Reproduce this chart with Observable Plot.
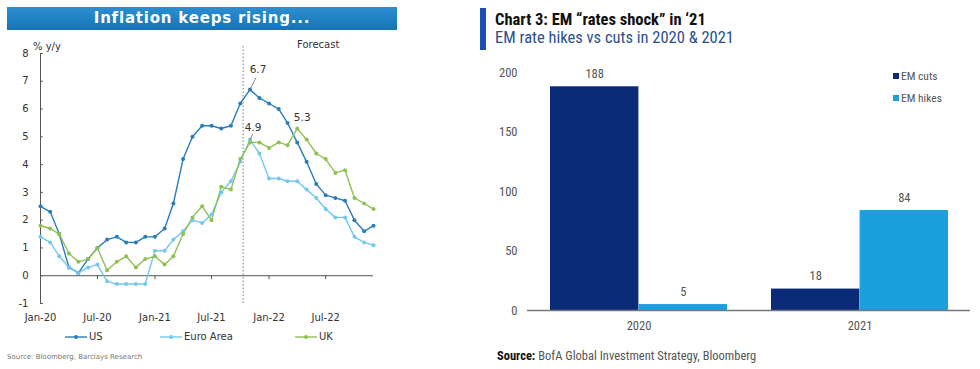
<!DOCTYPE html>
<html>
<head>
<meta charset="utf-8">
<script src="https://cdn.jsdelivr.net/npm/d3@7"></script>
<script src="https://cdn.jsdelivr.net/npm/@observablehq/plot@0.6"></script>
<style>
  html, body { margin: 0; padding: 0; background: #fff; }
  #root { position: relative; width: 980px; height: 369px; overflow: hidden; background: #fff; }
  .abs { position: absolute; white-space: nowrap; }
  .L { font-family: "DejaVu Sans", Verdana, sans-serif; }
  .R { font-family: "Liberation Sans Narrow", "Roboto Condensed", "Arial Narrow", sans-serif; }
</style>
</head>
<body>
<div id="root"></div>
<script>
// ---------- Left chart data: Inflation, % y/y, monthly Jan-20 .. Dec-22 ----------
const months = d3.utcMonths(new Date(Date.UTC(2020, 0, 1)), new Date(Date.UTC(2023, 0, 1)));
const usValues   = [2.5,2.3,1.5,0.3,0.1,0.6,1.0,1.3,1.4,1.2,1.2,1.4, 1.4,1.7,2.6,4.2,5.0,5.4,5.4,5.3,5.4,6.2,6.7,6.4, 6.2,6.0,5.5,4.8,4.1,3.3,2.9,2.8,2.7,2.0,1.6,1.8];
const euroValues = [1.4,1.2,0.7,0.3,0.1,0.3,0.4,-0.2,-0.3,-0.3,-0.3,-0.3, 0.9,0.9,1.3,1.6,2.0,1.9,2.2,3.0,3.4,4.1,4.9,4.4, 3.5,3.5,3.4,3.4,3.1,2.8,2.4,2.1,2.1,1.4,1.2,1.1];
const ukValues   = [1.8,1.7,1.5,0.8,0.5,0.6,1.0,0.2,0.5,0.7,0.3,0.6, 0.7,0.4,0.7,1.5,2.1,2.5,2.0,3.2,3.1,4.2,4.8,4.8, 4.6,4.8,4.7,5.3,4.9,4.4,4.2,3.7,3.8,2.8,2.6,2.4];
const seriesNames = ["US", "Euro Area", "UK"];
const seriesColors = ["#2a7db8", "#72c8ee", "#8fc152"];
const yTicksLeft = [-1,0,1,2,3,4,5,6,7,8];
const xTickLabels = ["Jan-20","Jul-20","Jan-21","Jul-21","Jan-22","Jul-22"];
const forecastStart = new Date(Date.UTC(2021, 9, 10));
const annotations = [
  {series: "US", index: 22, label: "6.7"},
  {series: "Euro Area", index: 22, label: "4.9"},
  {series: "UK", index: 27, label: "5.3"}
];

// ---------- Right chart data: EM rate hikes vs cuts ----------
const years = ["2020", "2021"];
const emCuts  = [188, 18];
const emHikes = [5, 84];
const barSeries = ["EM cuts", "EM hikes"];
const barColors = ["#0b2a77", "#1ba0dd"];
const yTicksRight = [0, 50, 100, 150, 200];

const root = document.getElementById("root");
function addDiv(cls, style, html) {
  const d = document.createElement("div");
  d.className = "abs " + cls;
  Object.assign(d.style, style);
  d.innerHTML = html;
  root.appendChild(d);
  return d;
}

// ---------- Left chart ----------
const valuesBySeries = {"US": usValues, "Euro Area": euroValues, "UK": ukValues};
const lineData = seriesNames.flatMap((s) => valuesBySeries[s].map((v, i) => ({series: s, date: months[i], value: v})));
const parseTick = d3.utcParse("%b-%y");
const xTickDates = xTickLabels.map((t) => parseTick(t));
const annData = annotations.map((a) => ({...a, date: months[a.index], value: valuesBySeries[a.series][a.index]}));
const annOffsets = {"6.7": {dx: 8, dy: -20, ld: 19, lv: 0.43}, "4.9": {dx: 3, dy: -12, ld: 9, lv: 0.2}, "5.3": {dx: 5, dy: -11, ld: 0, lv: 0}};

addDiv("L", {left: "7px", top: "7px", width: "390px", height: "23px",
  background: "linear-gradient(#2b8fd0, #1673b6)", color: "#fff", fontWeight: "bold",
  fontSize: "15px", letterSpacing: "0.8px", textAlign: "center", lineHeight: "23px"}, "Inflation keeps rising...");
addDiv("L", {left: "33px", top: "41px", fontSize: "10px", color: "#333"}, "% y/y");
addDiv("L", {left: "297px", top: "39px", fontSize: "10px", color: "#333"}, "Forecast");

const leftPlot = Plot.plot({
  width: 400, height: 290,
  marginTop: 18, marginBottom: 22, marginLeft: 40, marginRight: 27,
  style: {fontFamily: "DejaVu Sans, Verdana, sans-serif", fontSize: "10px", color: "#333", background: "transparent"},
  x: {type: "utc", domain: [months[0], months[months.length - 1]], label: null},
  y: {domain: [-1, 8], label: null},
  color: {domain: seriesNames, range: seriesColors},
  marks: [
    Plot.ruleX([forecastStart], {y1: -1, y2: 8.3, stroke: "#777", strokeDasharray: "1.5,2", strokeWidth: 1}),
    Plot.ruleY([0], {stroke: "#555", strokeWidth: 1}),
    Plot.ruleX([months[0]], {y1: -1, y2: 8, stroke: "#555", strokeWidth: 1}),
    Plot.ruleY(yTicksLeft, {y: (d) => d, x1: months[0], x2: d3.utcDay.offset(months[0], 9), stroke: "#555"}),
    Plot.ruleX(xTickDates, {x: (d) => d, y1: 0, y2: -0.14, stroke: "#555"}),
    Plot.axisY({ticks: yTicksLeft, tickSize: 0, tickPadding: 12, tickFormat: (d) => d, label: null}),
    Plot.axisX({ticks: xTickDates, tickFormat: d3.utcFormat("%b-%y"), tickSize: 0, tickPadding: 10, label: null}),
    Plot.line(lineData, {x: "date", y: "value", z: "series", stroke: "series", strokeWidth: 1.4}),
    Plot.dot(lineData, {x: "date", y: "value", fill: "series", r: 2}),
    Plot.link(annData.filter((d) => annOffsets[d.label].ld > 0), {
      x1: "date", y1: "value",
      x2: (d) => d3.utcDay.offset(d.date, annOffsets[d.label].ld),
      y2: (d) => d.value + annOffsets[d.label].lv,
      stroke: "#666", strokeWidth: 0.8}),
    ...annData.map((d) => Plot.text([d], {x: "date", y: "value", text: "label",
      dx: annOffsets[d.label].dx, dy: annOffsets[d.label].dy, fill: "#333", fontSize: 10.5}))
  ]
});
const leftWrap = addDiv("", {left: "0px", top: "35px"}, "");
leftWrap.appendChild(leftPlot);

function legendMarker(color) {
  return `<svg width="22" height="8" style="vertical-align:middle"><line x1="0" y1="4" x2="22" y2="4" stroke="${color}" stroke-width="1.4"/><circle cx="11" cy="4" r="2" fill="${color}"/></svg>`;
}
const legendLeftX = [65, 160, 295];
seriesNames.forEach((s, i) => {
  addDiv("L", {left: legendLeftX[i] + "px", top: "330px", fontSize: "10px", color: "#333", lineHeight: "14px"},
    legendMarker(seriesColors[i]) + `<span style="margin-left:2px">${s}</span>`);
});
addDiv("L", {left: "7px", top: "353px", fontSize: "7px", color: "#777"}, "Source: Bloomberg, Barclays Research");

// ---------- Right chart ----------
addDiv("", {left: "480px", top: "8px", width: "6px", height: "42px", background: "#1b4fb5"}, "");
addDiv("R", {left: "495px", top: "11px", fontSize: "16.5px", fontWeight: "bold", color: "#111", lineHeight: "18px"},
  "Chart 3: EM \u201Crates shock\u201D in \u201821");
addDiv("R", {left: "495px", top: "29px", fontSize: "16.5px", color: "#2a4f8f", lineHeight: "18px"},
  "EM rate hikes vs cuts in 2020 &amp; 2021");

const barData = years.flatMap((y, i) => [
  {year: y, series: barSeries[0], value: emCuts[i]},
  {year: y, series: barSeries[1], value: emHikes[i]}
]);
const step = (500 - 47 - 10) / (years.length - 0.2 + 0.2);
const bw = step * 0.8;
const rightPlot = Plot.plot({
  width: 500, height: 280,
  marginTop: 12, marginBottom: 30, marginLeft: 47, marginRight: 10,
  style: {fontFamily: "Liberation Sans Narrow, Roboto Condensed, Arial Narrow, sans-serif", fontSize: "12.5px", color: "#555", background: "transparent"},
  x: {domain: years, paddingInner: 0.2, paddingOuter: 0.1, label: null},
  y: {domain: [0, 200], label: null},
  color: {domain: barSeries, range: barColors},
  marks: [
    Plot.barY(barData.filter((d) => d.series === barSeries[0]), {x: "year", y: "value", fill: "series", insetRight: bw / 2}),
    Plot.barY(barData.filter((d) => d.series === barSeries[1]), {x: "year", y: "value", fill: "series", insetLeft: bw / 2}),
    Plot.text(barData.filter((d) => d.series === barSeries[0]), {x: "year", y: "value", text: (d) => d.value, dx: -bw / 4, dy: -13, fill: "#555", fontSize: 12.5}),
    Plot.text(barData.filter((d) => d.series === barSeries[1]), {x: "year", y: "value", text: (d) => d.value, dx: bw / 4, dy: -13, fill: "#555", fontSize: 12.5}),
    Plot.ruleY([0], {stroke: "#777", strokeWidth: 1.5}),
    Plot.axisY({ticks: yTicksRight, tickSize: 0, tickPadding: 10, label: null}),
    Plot.axisX({tickSize: 0, tickPadding: 11, label: null})
  ]
});
const rightWrap = addDiv("", {left: "480px", top: "60px"}, "");
rightWrap.appendChild(rightPlot);

const legendRightTop = [69, 91];
barSeries.forEach((s, i) => {
  addDiv("R", {left: "893px", top: legendRightTop[i] + "px", fontSize: "11.5px", color: "#555", lineHeight: "14px"},
    `<span style="display:inline-block;width:6px;height:6px;background:${barColors[i]};margin-right:2px;vertical-align:1px"></span>${s}`);
});
addDiv("R", {left: "497px", top: "348px", fontSize: "12.5px", color: "#555"},
  `<b style="color:#111">Source:</b> BofA Global Investment Strategy, Bloomberg`);
</script>
</body>
</html>
